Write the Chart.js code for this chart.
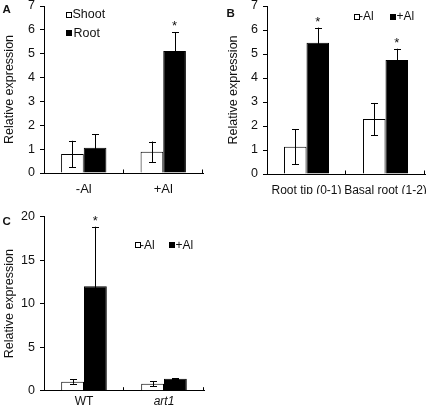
<!DOCTYPE html>
<html>
<head>
<meta charset="utf-8">
<script src="https://cdn.jsdelivr.net/npm/chart.js@4"></script>
<style>
  html, body { margin: 0; padding: 0; background: #fff; overflow: hidden; }
  body { width: 427px; height: 408px; position: relative; font-family: "Liberation Sans", Arial, sans-serif; color: #111; }
  canvas { position: absolute; }
  .lbl { position: absolute; white-space: nowrap; line-height: 14px; }
  .letter { position: absolute; font-weight: bold; font-size: 11.5px; line-height: 12px; }
  .box { position: absolute; width: 4px; height: 4px; border: 1px solid #000; background: #fff; }
  .box.fill { background: #000; }
</style>
</head>
<body>
<canvas id="chartA" width="213" height="210" style="left:0px;top:-10px"></canvas>
<canvas id="chartB" width="216" height="210" style="left:213px;top:-10px"></canvas>
<canvas id="chartC" width="213" height="208" style="left:0px;top:200px"></canvas>

<div class="letter" style="left:2.5px;top:3px">A</div>
<div class="letter" style="left:226.5px;top:6.5px">B</div>
<div class="letter" style="left:2.5px;top:214.5px">C</div>

<!-- legend A -->
<div class="box" style="left:65.5px;top:11.5px"></div>
<div class="lbl" style="left:72.5px;top:7px;font-size:12.5px">Shoot</div>
<div class="box fill" style="left:65.5px;top:29.5px"></div>
<div class="lbl" style="left:73.5px;top:25.5px;font-size:12.5px">Root</div>

<!-- legend B -->
<div class="box" style="left:353.5px;top:13.5px"></div>
<div class="lbl" style="left:359px;top:9px;font-size:12px">-Al</div>
<div class="box fill" style="left:390px;top:13.5px"></div>
<div class="lbl" style="left:396.5px;top:9px;font-size:12px">+Al</div>

<!-- legend C -->
<div class="box" style="left:134.5px;top:241.5px"></div>
<div class="lbl" style="left:140px;top:237.5px;font-size:12px">-Al</div>
<div class="box fill" style="left:169px;top:241.5px"></div>
<div class="lbl" style="left:175.5px;top:237.5px;font-size:12px">+Al</div>

<script>
// Panel A: shoot vs root, -Al / +Al
const catsA = ["-Al", "+Al"];
const shootA = [0.8, 0.89];
const shootErrA = [0.55, 0.43];
const rootA = [1.06, 5.11];
const rootErrA = [0.56, 0.8];
const rootStarA = ["", "*"];

// Panel B: root tip vs basal root
const catsB = ["Root tip (0-1)", "Basal root (1-2)"];
const minusB = [1.14, 2.29];
const minusErrB = [0.73, 0.67];
const plusB = [5.47, 4.75];
const plusErrB = [0.63, 0.47];
const plusStarB = ["*", "*"];

// Panel C: WT vs art1
const catsC = ["WT", "art1"];
const minusC = [1.04, 0.8];
const minusErrC = [0.25, 0.3];
const plusC = [12.0, 1.38];
const plusErrC = [6.85, 0.05];
const plusStarC = ["*", ""];

const ticksA = { max: 7, step: 1 };
const ticksB = { max: 7, step: 1 };
const ticksC = { max: 20, step: 5 };

const FONT = '"Liberation Sans", Arial, sans-serif';
const INK = "#111";

// error bars, asterisks and the small inward ticks on the x axis
function makeErrorPlugin(errs, stars) {
  return {
    id: "errorBars",
    afterDraw(chart) {
      const ctx = chart.ctx;
      const ys = chart.scales.y;
      const xs = chart.scales.x;
      ctx.save();
      ctx.strokeStyle = "#000";
      ctx.lineWidth = 1;
      chart.data.datasets.forEach((ds, d) => {
        const meta = chart.getDatasetMeta(d);
        meta.data.forEach((bar, i) => {
          const v = ds.data[i];
          const e = errs[d][i];
          const x = Math.round(bar.x) + 0.5;
          const yTop = ys.getPixelForValue(v + e);
          const yBot = ys.getPixelForValue(Math.max(v - e, 0));
          ctx.beginPath();
          ctx.moveTo(x, yTop);
          ctx.lineTo(x, yBot);
          ctx.moveTo(x - 3.5, Math.round(yTop) + 0.5);
          ctx.lineTo(x + 3.5, Math.round(yTop) + 0.5);
          ctx.moveTo(x - 3.5, Math.round(yBot) + 0.5);
          ctx.lineTo(x + 3.5, Math.round(yBot) + 0.5);
          ctx.stroke();
          const s = stars[d] ? stars[d][i] : "";
          if (s) {
            ctx.fillStyle = INK;
            ctx.font = "13px " + FONT;
            ctx.textAlign = "center";
            ctx.textBaseline = "alphabetic";
            ctx.fillText(s, bar.x, yTop - 2);
          }
        });
      });
      // inward ticks at category boundaries
      const n = chart.data.labels.length;
      const w = (xs.right - xs.left) / n;
      ctx.beginPath();
      for (let i = 1; i <= n; i++) {
        const x = Math.round(xs.left + i * w) - 0.5;
        ctx.moveTo(x, xs.top);
        ctx.lineTo(x, xs.top - 3.5);
      }
      ctx.stroke();
      ctx.restore();
    },
  };
}

function makePanel(id, labels, sets, errs, stars, yt, lay) {
  const ctx = document.getElementById(id).getContext("2d");
  return new Chart(ctx, {
    type: "bar",
    data: {
      labels: labels,
      datasets: sets.map((s) => ({
        data: s.data,
        backgroundColor: s.fill,
        borderColor: "#000",
        borderWidth: 1,
        barPercentage: 1,
        categoryPercentage: 0.57,
      })),
    },
    options: {
      responsive: false,
      animation: false,
      layout: { padding: lay.padding },
      plugins: { legend: { display: false }, tooltip: { enabled: false } },
      scales: {
        x: {
          grid: { display: false, drawTicks: false },
          border: { display: true, color: "#000", width: 1 },
          ticks: {
            color: INK,
            autoSkip: false,
            maxRotation: 0,
            minRotation: 0,
            padding: lay.xPad,
            font: (c) => ({
              family: FONT,
              size: lay.xFont,
              style: lay.italic && lay.italic[c.index] ? "italic" : "normal",
            }),
          },
          afterFit: (s) => {
            s.height = lay.xHeight;
            // keep the plot width fixed, labels may spill a little
            s.paddingLeft = 0;
            s.paddingRight = 0;
          },
        },
        y: {
          min: 0,
          max: yt.max,
          grid: { display: true, drawOnChartArea: false, drawTicks: true, tickLength: 4, color: "#000" },
          border: { display: true, color: "#000", width: 1 },
          ticks: { stepSize: yt.step, color: INK, padding: 5, font: { family: FONT, size: 12.5 } },
          title: {
            display: true,
            text: "Relative expression",
            color: INK,
            padding: 0,
            font: { family: FONT, size: 12.5 },
          },
          afterFit: (s) => { s.width = lay.yWidth; },
        },
      },
    },
    plugins: [makeErrorPlugin(errs, stars)],
  });
}

makePanel(
  "chartA",
  catsA,
  [{ data: shootA, fill: "#fff" }, { data: rootA, fill: "#000" }],
  [shootErrA, rootErrA],
  [null, rootStarA],
  ticksA,
  { padding: { left: 2.5, top: 16, right: 10, bottom: 7 }, yWidth: 41.5, xHeight: 20, xPad: 9, xFont: 13 }
);

makePanel(
  "chartB",
  catsB,
  [{ data: minusB, fill: "#fff" }, { data: plusB, fill: "#000" }],
  [minusErrB, plusErrB],
  [null, plusStarB],
  ticksB,
  { padding: { left: 13.5, top: 16, right: 4, bottom: 6 }, yWidth: 40.5, xHeight: 20, xPad: 9, xFont: 12 }
);

makePanel(
  "chartC",
  catsC,
  [{ data: minusC, fill: "#fff" }, { data: plusC, fill: "#000" }],
  [minusErrC, plusErrC],
  [null, plusStarC],
  ticksC,
  { padding: { left: 2, top: 16.7, right: 9, bottom: 0 }, yWidth: 42, xHeight: 17.3, xPad: 3.5, xFont: 12, italic: [false, true] }
);
</script>
</body>
</html>
